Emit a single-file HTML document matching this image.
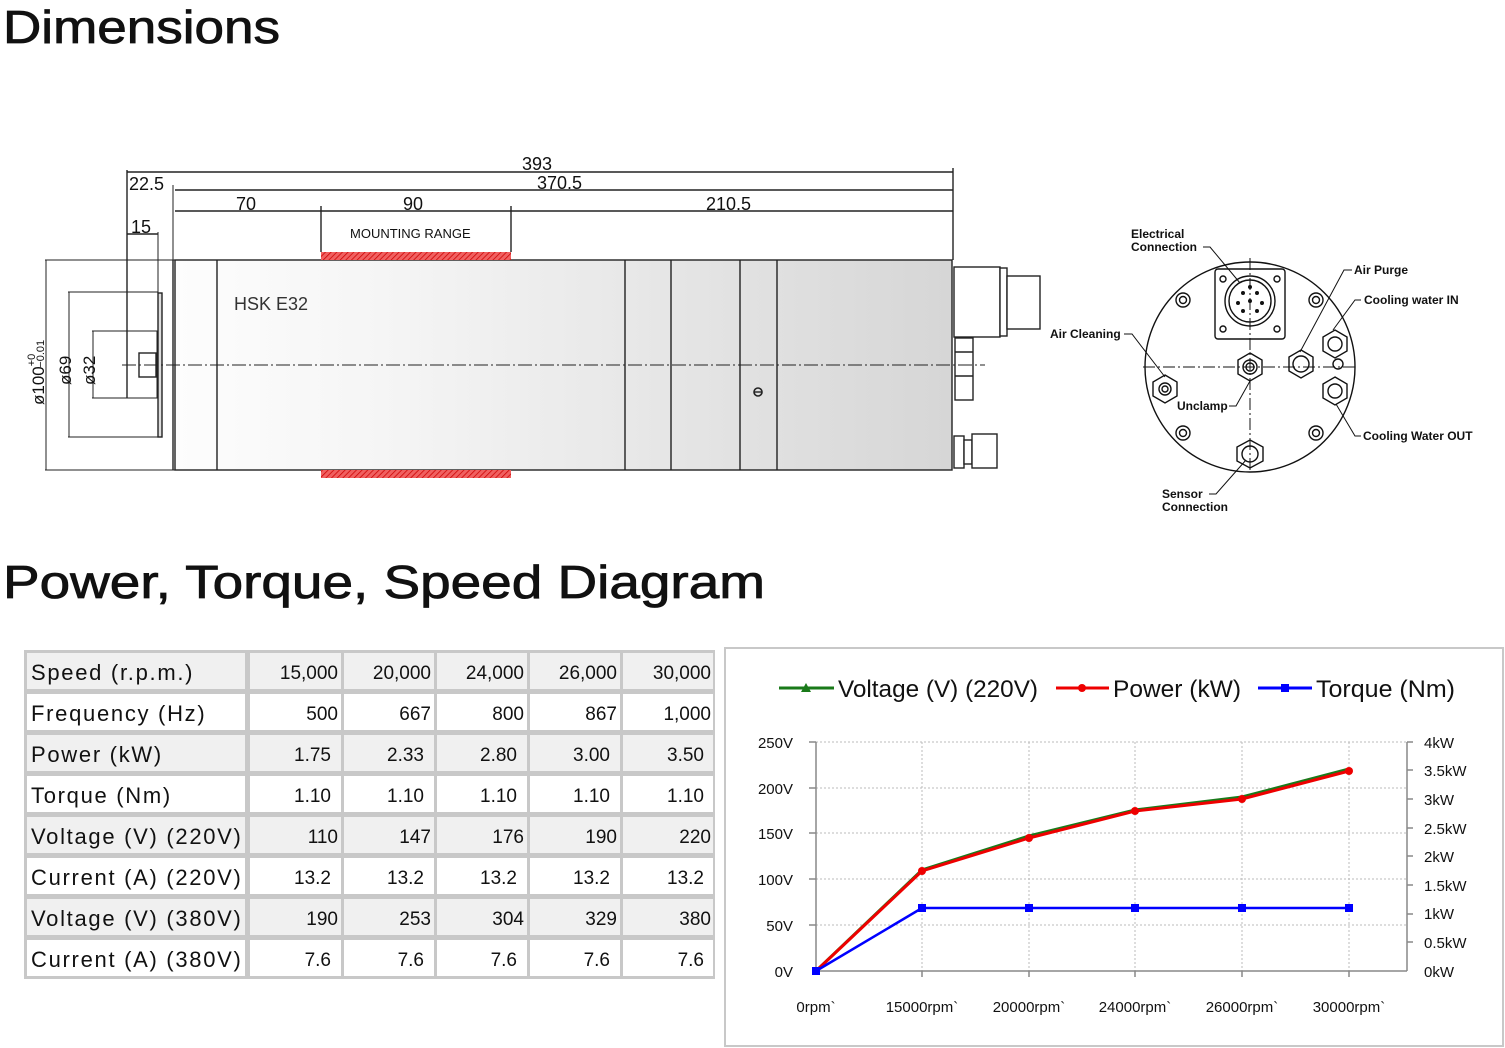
<!DOCTYPE html>
<html><head><meta charset="utf-8"><style>
body{margin:0;background:#fff;width:1505px;height:1048px;overflow:hidden;font-family:"Liberation Sans",sans-serif}
svg{display:block}
</style></head><body>
<svg width="1505" height="1048" viewBox="0 0 1505 1048" xmlns="http://www.w3.org/2000/svg" font-family="Liberation Sans, sans-serif">
<defs>
<linearGradient id="bg" x1="0" x2="1" y1="0" y2="0"><stop offset="0" stop-color="#fdfdfd"/><stop offset="0.3" stop-color="#f4f4f4"/><stop offset="1" stop-color="#d6d6d6"/></linearGradient>
<pattern id="hatch" width="4" height="4" patternUnits="userSpaceOnUse" patternTransform="rotate(45)"><rect width="4" height="4" fill="#f06060"/><line x1="0" y1="0" x2="0" y2="4" stroke="#c00" stroke-width="1.5"/></pattern>
</defs>
<text x="3" y="43" font-size="46" textLength="277" lengthAdjust="spacingAndGlyphs" fill="#111" stroke="#111" stroke-width="0.8">Dimensions</text>
<text x="3" y="598" font-size="46" textLength="762" lengthAdjust="spacingAndGlyphs" fill="#111" stroke="#111" stroke-width="0.8">Power, Torque, Speed Diagram</text>

<!-- side view -->
<g stroke="#222" stroke-width="1.4" fill="none">
<rect x="175" y="260" width="777" height="210" fill="url(#bg)"/>
<line x1="217" y1="260" x2="217" y2="470"/>
<line x1="625" y1="260" x2="625" y2="470"/>
<line x1="671" y1="260" x2="671" y2="470"/>
<line x1="740" y1="260" x2="740" y2="470"/>
<line x1="777" y1="260" x2="777" y2="470"/>
<line x1="173" y1="260" x2="173" y2="470"/>
<line x1="45" y1="260" x2="175" y2="260" stroke-width="1"/>
<line x1="45" y1="470" x2="175" y2="470" stroke-width="1"/>
<line x1="46" y1="260" x2="46" y2="470" stroke-width="1"/>
<polyline points="68,292 158,292 158,437 68,437" stroke-width="1"/>
<line x1="69" y1="292" x2="69" y2="437" stroke-width="1"/>
<rect x="158" y="293" width="4" height="144" fill="#ddd"/>
<polyline points="92,331 157,331 157,398 92,398" stroke-width="1"/>
<line x1="93" y1="331" x2="93" y2="398" stroke-width="1"/>
<rect x="139" y="353" width="17" height="24"/>
<line x1="127" y1="170" x2="127" y2="398"/>
<line x1="158" y1="232" x2="158" y2="292" stroke-width="1"/>
<line x1="173" y1="185" x2="173" y2="260" stroke-width="1"/>
<line x1="127" y1="172" x2="953" y2="172"/>
<line x1="175" y1="190" x2="953" y2="190"/>
<line x1="175" y1="211" x2="953" y2="211"/>
<line x1="953" y1="168" x2="953" y2="260"/>
<line x1="321" y1="206" x2="321" y2="252"/>
<line x1="511" y1="206" x2="511" y2="252"/>
<line x1="127" y1="234" x2="158" y2="234"/>
<rect x="954" y="267" width="46" height="70" fill="#fff"/>
<rect x="1000" y="268" width="7" height="68" fill="#fff"/>
<rect x="1007" y="276" width="33" height="53" fill="#fff"/>
<rect x="955" y="338" width="18" height="62" fill="#fff"/>
<line x1="955" y1="352" x2="973" y2="352"/><line x1="955" y1="376" x2="973" y2="376"/>
<rect x="954" y="436" width="10" height="32" fill="#fff"/>
<rect x="964" y="440" width="8" height="24" fill="#fff"/>
<rect x="972" y="434" width="25" height="34" fill="#fff"/>
<circle cx="758" cy="392" r="4" stroke-width="1.6"/>
<line x1="754" y1="392" x2="762" y2="392"/>
</g>
<rect x="321" y="252" width="190" height="8" fill="url(#hatch)"/>
<rect x="321" y="470" width="190" height="8" fill="url(#hatch)"/>
<line x1="122" y1="365" x2="985" y2="365" stroke="#222" stroke-width="1" stroke-dasharray="14,3,2,3"/>
<g font-size="18" fill="#111">
<text x="522" y="170">393</text><text x="537" y="189">370.5</text>
<text x="236" y="210">70</text><text x="403" y="210">90</text><text x="706" y="210">210.5</text>
<text x="129" y="190">22.5</text><text x="131" y="233">15</text>
</g>
<text x="350" y="238" font-size="13" fill="#111">MOUNTING RANGE</text>
<text x="234" y="310" font-size="18" fill="#333">HSK  E32</text>
<g font-size="17" fill="#111">
<text transform="translate(44,405) rotate(-90)">ø100<tspan font-size="11" dy="-9">+0</tspan><tspan font-size="11" dx="-14" dy="9">−0.01</tspan></text>
<text transform="translate(71,385) rotate(-90)">ø69</text>
<text transform="translate(95,385) rotate(-90)">ø32</text>
</g>

<!-- end view -->
<g stroke="#111" stroke-width="1.4" fill="none">
<circle cx="1250" cy="367" r="105"/>
<line x1="1143" y1="367" x2="1357" y2="367" stroke-dasharray="12,3,2,3" stroke-width="1"/>
<line x1="1250" y1="258" x2="1250" y2="472" stroke-dasharray="12,3,2,3" stroke-width="1"/>
<rect x="1215" y="269" width="70" height="70" rx="3"/>
<circle cx="1250" cy="301" r="25"/><circle cx="1250" cy="301" r="21"/>
<g fill="#111" stroke="none"><circle cx="1250" cy="301" r="2"/><circle cx="1243" cy="293" r="2"/><circle cx="1257" cy="293" r="2"/><circle cx="1238" cy="303" r="2"/><circle cx="1262" cy="303" r="2"/><circle cx="1243" cy="311" r="2"/><circle cx="1257" cy="311" r="2"/><circle cx="1250" cy="287" r="2"/></g>
<circle cx="1223" cy="279" r="3"/><circle cx="1277" cy="279" r="3"/><circle cx="1223" cy="329" r="3"/><circle cx="1277" cy="329" r="3"/>
<circle cx="1183" cy="300" r="7"/><circle cx="1183" cy="300" r="3.5"/>
<circle cx="1316" cy="300" r="7"/><circle cx="1316" cy="300" r="3.5"/>
<circle cx="1183" cy="433" r="7"/><circle cx="1183" cy="433" r="3.5"/>
<circle cx="1316" cy="433" r="7"/><circle cx="1316" cy="433" r="3.5"/>
<polygon points="1250,353 1262,360 1262,374 1250,381 1238,374 1238,360"/><circle cx="1250" cy="367" r="7"/><circle cx="1250" cy="367" r="4"/>
<polygon points="1165,375 1177,382 1177,396 1165,403 1153,396 1153,382"/><circle cx="1165" cy="389" r="6"/><circle cx="1165" cy="389" r="3"/>
<polygon points="1301,350 1313,357 1313,371 1301,378 1289,371 1289,357"/><circle cx="1301" cy="364" r="8"/>
<polygon points="1335,330 1347,337 1347,351 1335,358 1323,351 1323,337"/><circle cx="1335" cy="344" r="7"/>
<polygon points="1335,377 1347,384 1347,398 1335,405 1323,398 1323,384"/><circle cx="1335" cy="391" r="7"/>
<circle cx="1338" cy="364" r="5"/>
<polygon points="1250,440 1263,447 1263,461 1250,468 1237,461 1237,447"/><circle cx="1250" cy="454" r="8"/>
<g stroke-width="1">
<polyline points="1203,247 1210,247 1240,283"/>
<polyline points="1352,270 1344,270 1300,352"/>
<polyline points="1361,300 1355,300 1333,330"/>
<polyline points="1124,334 1132,334 1165,377"/>
<polyline points="1229,406 1236,406 1250,381"/>
<polyline points="1361,436 1355,436 1336,404"/>
<polyline points="1209,494 1216,494 1246,460"/>
</g>
</g>
<g font-size="12" fill="#111" font-weight="bold">
<text x="1131" y="238">Electrical</text><text x="1131" y="251">Connection</text>
<text x="1354" y="274">Air Purge</text>
<text x="1364" y="304">Cooling water IN</text>
<text x="1050" y="338">Air Cleaning</text>
<text x="1177" y="410">Unclamp</text>
<text x="1363" y="440">Cooling Water OUT</text>
<text x="1162" y="498">Sensor</text><text x="1162" y="511">Connection</text>
</g>

<!-- table -->
<rect x="24" y="650" width="691" height="329" fill="#c8c8c8"/>
<g fill="#f0f0f0">
<rect x="27" y="653" width="218" height="36"/><rect x="27" y="735" width="218" height="36"/><rect x="27" y="817" width="218" height="36"/><rect x="27" y="899" width="218" height="36"/>
<rect x="250" y="653" width="91" height="36"/><rect x="344" y="653" width="90" height="36"/><rect x="437" y="653" width="90" height="36"/><rect x="530" y="653" width="90" height="36"/><rect x="623" y="653" width="90" height="36"/>
<rect x="250" y="735" width="91" height="36"/><rect x="344" y="735" width="90" height="36"/><rect x="437" y="735" width="90" height="36"/><rect x="530" y="735" width="90" height="36"/><rect x="623" y="735" width="90" height="36"/>
<rect x="250" y="817" width="91" height="36"/><rect x="344" y="817" width="90" height="36"/><rect x="437" y="817" width="90" height="36"/><rect x="530" y="817" width="90" height="36"/><rect x="623" y="817" width="90" height="36"/>
<rect x="250" y="899" width="91" height="36"/><rect x="344" y="899" width="90" height="36"/><rect x="437" y="899" width="90" height="36"/><rect x="530" y="899" width="90" height="36"/><rect x="623" y="899" width="90" height="36"/>
</g>
<g fill="#fff">
<rect x="27" y="694" width="218" height="36"/><rect x="27" y="776" width="218" height="36"/><rect x="27" y="858" width="218" height="36"/><rect x="27" y="940" width="218" height="36"/>
<rect x="250" y="694" width="91" height="36"/><rect x="344" y="694" width="90" height="36"/><rect x="437" y="694" width="90" height="36"/><rect x="530" y="694" width="90" height="36"/><rect x="623" y="694" width="90" height="36"/>
<rect x="250" y="776" width="91" height="36"/><rect x="344" y="776" width="90" height="36"/><rect x="437" y="776" width="90" height="36"/><rect x="530" y="776" width="90" height="36"/><rect x="623" y="776" width="90" height="36"/>
<rect x="250" y="858" width="91" height="36"/><rect x="344" y="858" width="90" height="36"/><rect x="437" y="858" width="90" height="36"/><rect x="530" y="858" width="90" height="36"/><rect x="623" y="858" width="90" height="36"/>
<rect x="250" y="940" width="91" height="36"/><rect x="344" y="940" width="90" height="36"/><rect x="437" y="940" width="90" height="36"/><rect x="530" y="940" width="90" height="36"/><rect x="623" y="940" width="90" height="36"/>
</g>
<g font-size="22" fill="#111" letter-spacing="1.7">
<text x="31" y="680">Speed (r.p.m.)</text><text x="31" y="721">Frequency (Hz)</text><text x="31" y="762">Power (kW)</text><text x="31" y="803">Torque (Nm)</text>
<text x="31" y="844">Voltage (V) (220V)</text><text x="31" y="885">Current (A) (220V)</text><text x="31" y="926">Voltage (V) (380V)</text><text x="31" y="967">Current (A) (380V)</text>
</g>
<g font-size="19" fill="#111" text-anchor="end">
<text x="338" y="679">15,000</text><text x="431" y="679">20,000</text><text x="524" y="679">24,000</text><text x="617" y="679">26,000</text><text x="711" y="679">30,000</text>
<text x="338" y="720">500</text><text x="431" y="720">667</text><text x="524" y="720">800</text><text x="617" y="720">867</text><text x="711" y="720">1,000</text>
<text x="331" y="761">1.75</text><text x="424" y="761">2.33</text><text x="517" y="761">2.80</text><text x="610" y="761">3.00</text><text x="704" y="761">3.50</text>
<text x="331" y="802">1.10</text><text x="424" y="802">1.10</text><text x="517" y="802">1.10</text><text x="610" y="802">1.10</text><text x="704" y="802">1.10</text>
<text x="338" y="843">110</text><text x="431" y="843">147</text><text x="524" y="843">176</text><text x="617" y="843">190</text><text x="711" y="843">220</text>
<text x="331" y="884">13.2</text><text x="424" y="884">13.2</text><text x="517" y="884">13.2</text><text x="610" y="884">13.2</text><text x="704" y="884">13.2</text>
<text x="338" y="925">190</text><text x="431" y="925">253</text><text x="524" y="925">304</text><text x="617" y="925">329</text><text x="711" y="925">380</text>
<text x="331" y="966">7.6</text><text x="424" y="966">7.6</text><text x="517" y="966">7.6</text><text x="610" y="966">7.6</text><text x="704" y="966">7.6</text>
</g>

<!-- chart -->
<rect x="725" y="648" width="778" height="398" fill="#fff" stroke="#c8c8c8" stroke-width="2"/>
<g stroke="#bbb" stroke-width="1" stroke-dasharray="2,2">
<line x1="816" y1="742" x2="1407" y2="742"/><line x1="816" y1="788" x2="1407" y2="788"/><line x1="816" y1="833" x2="1407" y2="833"/><line x1="816" y1="879" x2="1407" y2="879"/><line x1="816" y1="925" x2="1407" y2="925"/>
<line x1="922" y1="742" x2="922" y2="971"/><line x1="1029" y1="742" x2="1029" y2="971"/><line x1="1135" y1="742" x2="1135" y2="971"/><line x1="1242" y1="742" x2="1242" y2="971"/><line x1="1349" y1="742" x2="1349" y2="971"/>
</g>
<g stroke="#888" stroke-width="1.5">
<line x1="816" y1="742" x2="816" y2="971"/><line x1="1407" y1="742" x2="1407" y2="971"/><line x1="816" y1="971" x2="1407" y2="971"/>
<line x1="809" y1="742" x2="816" y2="742"/><line x1="809" y1="788" x2="816" y2="788"/><line x1="809" y1="833" x2="816" y2="833"/><line x1="809" y1="879" x2="816" y2="879"/><line x1="809" y1="925" x2="816" y2="925"/>
<line x1="1407" y1="742" x2="1413" y2="742"/><line x1="1407" y1="770" x2="1413" y2="770"/><line x1="1407" y1="799" x2="1413" y2="799"/><line x1="1407" y1="828" x2="1413" y2="828"/><line x1="1407" y1="856" x2="1413" y2="856"/><line x1="1407" y1="885" x2="1413" y2="885"/><line x1="1407" y1="914" x2="1413" y2="914"/><line x1="1407" y1="942" x2="1413" y2="942"/>
<line x1="922" y1="971" x2="922" y2="977"/><line x1="1029" y1="971" x2="1029" y2="977"/><line x1="1135" y1="971" x2="1135" y2="977"/><line x1="1242" y1="971" x2="1242" y2="977"/><line x1="1349" y1="971" x2="1349" y2="977"/>
</g>
<polyline points="816,971 922,870 1029,836 1135,810 1242,797 1349,769" fill="none" stroke="#1a7a1a" stroke-width="3"/>
<polyline points="816,971 922,871 1029,838 1135,811 1242,799 1349,771" fill="none" stroke="#e00" stroke-width="3"/>
<g fill="#e00"><circle cx="922" cy="871" r="4"/><circle cx="1029" cy="838" r="4"/><circle cx="1135" cy="811" r="4"/><circle cx="1242" cy="799" r="4"/><circle cx="1349" cy="771" r="4"/></g>
<polyline points="816,971 922,908 1029,908 1135,908 1242,908 1349,908" fill="none" stroke="#00f" stroke-width="2.5"/>
<g fill="#00f"><rect x="812" y="967" width="8" height="8"/><rect x="918" y="904" width="8" height="8"/><rect x="1025" y="904" width="8" height="8"/><rect x="1131" y="904" width="8" height="8"/><rect x="1238" y="904" width="8" height="8"/><rect x="1345" y="904" width="8" height="8"/></g>
<g font-size="15" fill="#111" text-anchor="end">
<text x="793" y="748">250V</text><text x="793" y="794">200V</text><text x="793" y="839">150V</text><text x="793" y="885">100V</text><text x="793" y="931">50V</text><text x="793" y="977">0V</text>
</g>
<g font-size="15" fill="#111">
<text x="1424" y="748">4kW</text><text x="1424" y="776">3.5kW</text><text x="1424" y="805">3kW</text><text x="1424" y="834">2.5kW</text><text x="1424" y="862">2kW</text><text x="1424" y="891">1.5kW</text><text x="1424" y="919">1kW</text><text x="1424" y="948">0.5kW</text><text x="1424" y="977">0kW</text>
</g>
<g font-size="15" fill="#111" text-anchor="middle">
<text x="816" y="1012">0rpm`</text><text x="922" y="1012">15000rpm`</text><text x="1029" y="1012">20000rpm`</text><text x="1135" y="1012">24000rpm`</text><text x="1242" y="1012">26000rpm`</text><text x="1349" y="1012">30000rpm`</text>
</g>
<line x1="779" y1="688" x2="834" y2="688" stroke="#1a7a1a" stroke-width="3"/><polygon points="806,683 811,692 801,692" fill="#1a7a1a"/>
<line x1="1056" y1="688" x2="1109" y2="688" stroke="#e00" stroke-width="3"/><circle cx="1082" cy="688" r="4" fill="#e00"/>
<line x1="1258" y1="688" x2="1312" y2="688" stroke="#00f" stroke-width="3"/><rect x="1281" y="684" width="8" height="8" fill="#00f"/>
<g font-size="24" fill="#111">
<text x="838" y="697" textLength="200" lengthAdjust="spacingAndGlyphs">Voltage (V) (220V)</text><text x="1113" y="697" textLength="128" lengthAdjust="spacingAndGlyphs">Power (kW)</text><text x="1316" y="697" textLength="139" lengthAdjust="spacingAndGlyphs">Torque (Nm)</text>
</g>
</svg>
</body></html>
